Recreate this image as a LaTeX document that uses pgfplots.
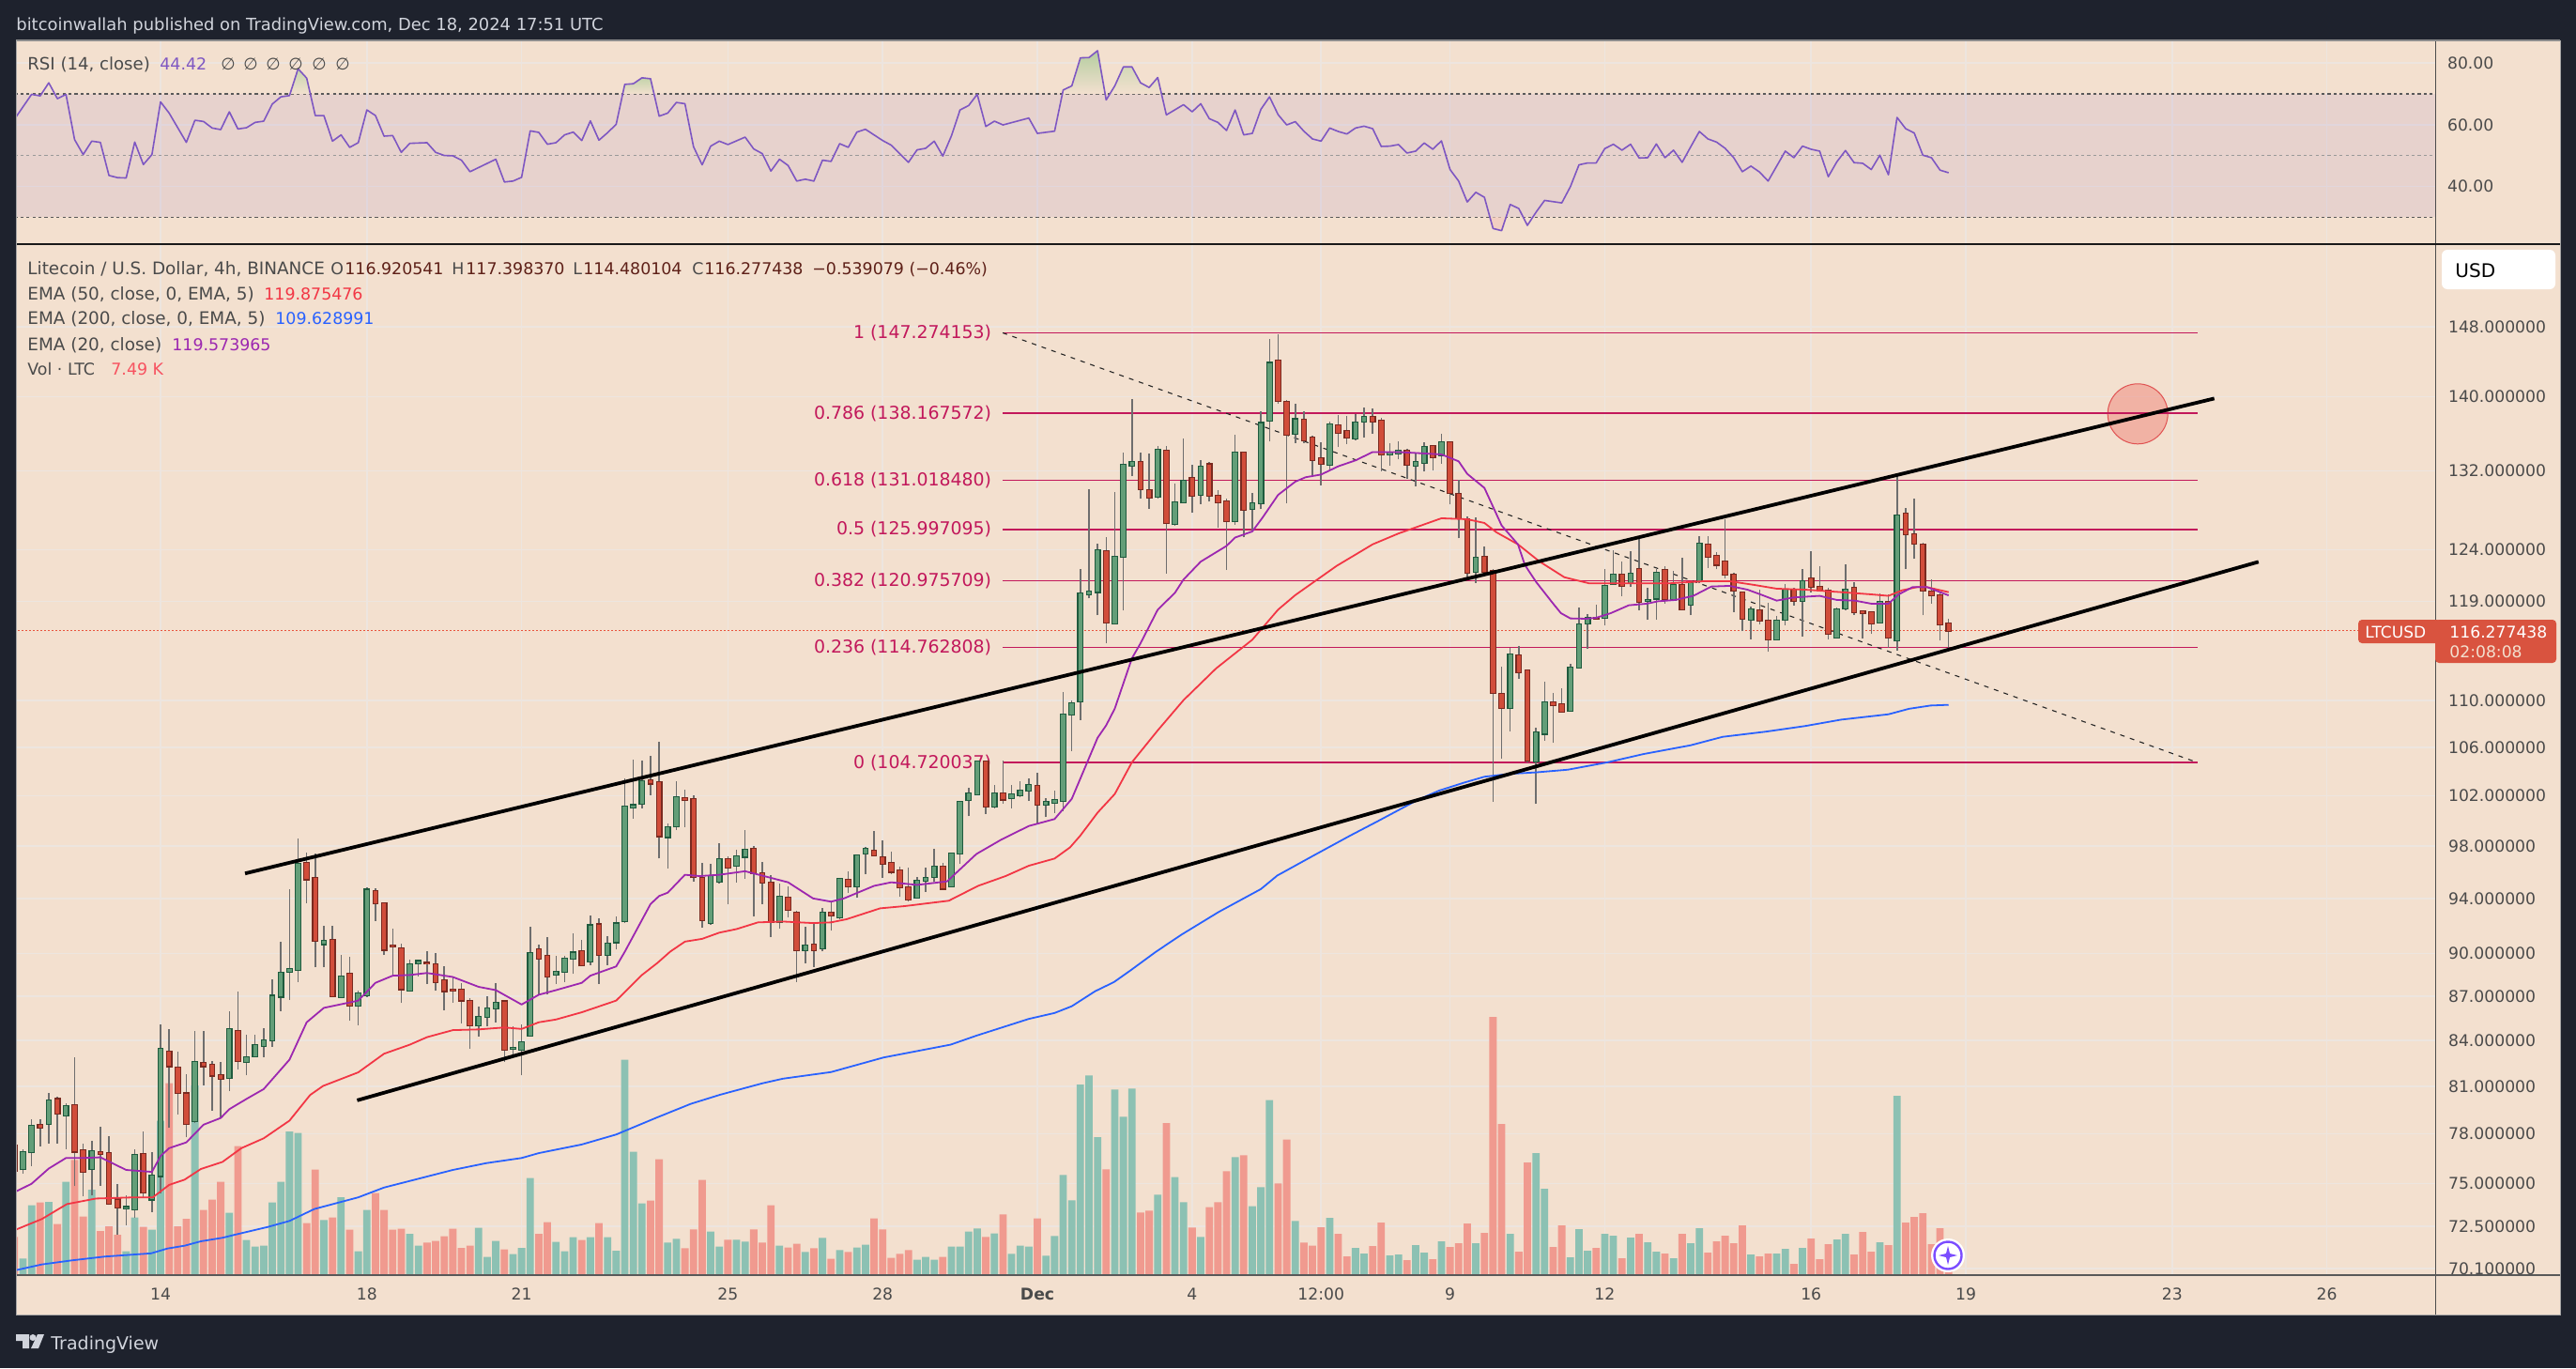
\documentclass[border=0pt]{standalone}
\usepackage{fontspec}
\setmainfont{DejaVu Sans}
\usepackage{pgfplots}
\usepackage{pgfplotstable}
\pgfplotsset{compat=1.18}

\definecolor{pagebg}{HTML}{1E222D}
\definecolor{panelbg}{HTML}{F3E0CF}
\definecolor{gridc}{HTML}{EDE5DF}
\definecolor{txt}{HTML}{4A4A4A}
\definecolor{titletxt}{HTML}{D1D4DC}
\definecolor{maroon}{HTML}{5E2018}
\definecolor{fibc}{HTML}{C2185B}
\definecolor{upbody}{HTML}{639E78}
\definecolor{upline}{HTML}{1F5B3E}
\definecolor{downbody}{HTML}{D14D3A}
\definecolor{downline}{HTML}{7A2A20}
\definecolor{wick}{HTML}{6E6E6E}
\definecolor{volup}{HTML}{8CC1B3}
\definecolor{voldown}{HTML}{F09A8F}
\definecolor{rsic}{HTML}{7E57C2}
\definecolor{emaA}{HTML}{F23645}
\definecolor{emaB}{HTML}{2962FF}
\definecolor{emaC}{HTML}{9C27B0}
\definecolor{lastc}{HTML}{E8553F}
\definecolor{tagc}{HTML}{D9533F}
\definecolor{obA}{HTML}{C5D5AC}
\definecolor{obB}{HTML}{C3D4AA}
\definecolor{obC}{HTML}{B4CDA0}
\definecolor{obD}{HTML}{D3D9B8}
\definecolor{osA}{HTML}{F2CFC2}
\definecolor{circfill}{HTML}{F07A70}
\definecolor{circline}{HTML}{E05252}
\definecolor{volval}{HTML}{F7525F}
\definecolor{badge}{HTML}{7B4DFF}

\newcommand\ts{\fontsize{8.7}{12}\selectfont}
\newcommand\lbl{\fontsize{9.2}{12}\selectfont}
\newcommand\tk{\fontsize{8.6}{12}\selectfont}
\newcommand\tf{\fontsize{9.45}{12}\selectfont}

% rising candles: bar (0 = 14 Nov 00:00, 4h), open high low close, volume in K
\pgfplotstableread{
i o h l c v
-16 75.86 77.07 75.58 76.88 5.0
-15 76.88 78.95 76.05 78.51 22.0
-13 78.61 80.55 77.43 80.09 23.1
-11 79.15 79.94 77.08 79.74 29.5
-8 75.86 77.6 74.29 76.93 27.0
-4 73.56 74.29 72.57 73.6 7.3
-3 73.47 77.08 72.96 76.71 18.1
-1 74.06 76.88 73.32 75.45 14.2
0 75.45 85.08 74.4 83.44 49.0
4 78.8 84.64 78.7 82.57 60.3
8 81.53 85.95 80.68 84.77 19.6
10 82.57 84.38 81.7 82.89 10.9
11 82.97 84.38 82.91 83.7 8.8
12 83.62 84.82 82.91 84.01 9.1
13 84.01 88.2 83.57 87.03 22.9
14 86.97 90.84 86.0 88.65 29.5
15 88.7 94.69 86.75 88.87 45.6
16 88.84 98.63 87.98 96.65 45.1
19 90.68 92.02 89.03 90.92 17.3
21 86.95 89.89 86.87 88.37 24.6
23 86.35 87.37 85.03 87.17 7.3
24 87.09 94.88 86.95 94.66 20.5
29 87.42 89.55 87.3 89.24 12.9
30 89.3 89.55 88.4 89.46 9.1
37 85.0 86.3 84.25 85.59 14.8
38 85.57 87.0 84.95 86.16 5.5
39 86.16 87.93 85.22 86.55 10.6
41 83.47 84.95 82.86 83.52 6.4
42 83.39 85.08 81.7 83.88 8.4
43 84.33 91.96 84.3 90.0 30.7
46 88.49 89.83 87.87 88.68 10.3
47 88.73 89.83 88.0 89.65 7.3
48 89.65 91.45 88.54 90.06 11.8
50 89.46 92.76 89.19 92.02 11.8
52 89.92 91.27 89.19 90.7 11.8
53 90.82 92.7 90.28 92.17 7.5
54 92.33 103.42 92.2 101.13 68.5
55 101.04 104.97 100.16 101.23 39.1
56 101.35 104.9 101.0 103.2 22.6
59 98.72 99.8 96.31 99.48 10.1
60 99.55 103.19 99.26 101.86 11.3
64 92.2 96.6 92.1 95.69 13.6
65 95.27 98.26 95.13 97.01 8.8
67 96.49 97.74 95.23 97.22 11.0
68 97.18 99.3 95.48 97.7 10.4
72 92.27 95.13 91.76 94.15 9.1
75 90.24 91.92 89.33 90.56 7.1
77 90.37 93.28 90.14 92.98 11.6
79 92.61 95.55 92.5 95.47 7.7
81 94.93 97.36 94.05 97.29 8.5
82 97.43 97.91 95.83 97.77 9.4
88 94.09 95.65 94.02 95.34 4.6
89 95.34 96.35 94.52 95.55 5.5
90 95.62 97.81 95.3 96.42 4.6
92 94.93 97.46 94.86 97.43 8.8
93 97.43 101.57 96.66 101.5 8.8
94 101.64 102.62 100.34 102.18 13.6
95 102.11 104.84 102.04 104.8 14.6
97 101.14 102.89 100.96 102.18 13.0
99 101.82 102.85 101.0 102.11 6.5
100 102.04 103.15 101.86 102.41 9.1
101 102.41 103.42 101.6 102.85 8.8
103 101.28 101.79 100.27 101.5 5.9
104 101.43 102.41 100.6 101.64 12.2
105 101.57 110.77 100.78 108.8 31.7
106 108.8 109.97 105.66 109.73 23.6
107 109.95 122.13 108.29 119.76 60.6
108 119.66 130.12 119.28 119.91 63.5
109 119.91 124.62 117.7 123.93 43.8
111 116.93 129.78 116.83 123.28 59.0
112 123.28 133.9 118.13 132.6 50.3
113 132.57 139.7 131.44 132.9 59.3
116 129.3 134.65 129.09 134.23 25.4
118 126.54 130.64 126.4 128.74 31.0
119 128.74 135.38 128.67 130.98 23.0
121 129.54 133.1 128.57 132.46 11.9
125 126.84 135.85 126.47 133.9 37.4
127 128.05 129.67 125.86 128.64 21.7
128 128.64 138.4 128.02 137.09 27.8
129 137.35 146.6 135.09 143.8 55.6
132 135.96 139.26 134.94 137.5 17.0
136 132.64 137.27 132.11 136.94 18.0
139 135.45 138.07 135.23 137.13 8.4
140 137.27 138.81 135.52 137.76 6.6
143 133.77 134.94 132.5 133.88 6.0
144 133.84 135.16 133.2 134.13 6.3
146 132.53 133.81 130.36 132.92 9.3
147 132.85 135.05 131.9 134.51 6.9
149 133.63 135.96 132.75 135.02 10.5
153 121.84 127.2 120.77 123.21 9.9
157 109.36 114.72 107.37 114.08 12.9
160 104.81 107.66 101.32 107.23 38.7
161 107.14 111.66 106.57 109.87 27.3
164 109.12 113.26 109.04 112.92 5.4
165 112.92 118.43 112.83 116.85 14.4
166 116.94 117.82 114.58 117.47 7.5
168 117.47 122.07 116.74 120.48 12.9
169 120.66 123.97 120.57 121.52 12.3
171 120.75 123.85 120.36 121.64 11.7
173 119.11 120.27 117.26 119.14 10.2
174 119.29 122.07 117.26 121.74 7.2
176 119.2 121.92 119.08 120.54 5.1
178 118.7 120.93 117.7 120.75 9.9
179 120.93 125.35 120.72 124.58 14.7
185 117.29 118.55 115.51 118.26 6.3
188 115.46 117.61 115.4 117.2 6.6
189 117.29 120.66 116.8 120.12 8.1
191 119.05 122.13 115.77 120.93 8.4
195 115.63 118.43 115.57 118.26 11.1
196 118.34 122.6 118.2 120.12 12.9
200 117.03 119.77 116.97 118.97 10.2
202 115.37 131.52 114.44 127.4 57.0
}\upc

% falling candles
\pgfplotstableread{
i o h l c v
-17 77.29 77.4 75.5 75.74 11.9
-14 78.56 78.9 77.24 78.39 22.9
-12 80.17 80.32 77.43 79.27 16.0
-10 79.79 82.86 74.82 76.93 36.5
-9 77.0 77.41 74.22 75.69 18.4
-7 76.88 78.46 74.87 76.76 13.8
-6 76.83 77.85 73.72 73.81 15.3
-5 74.04 74.98 72.0 73.6 12.6
-2 76.76 78.14 74.13 74.45 15.1
1 83.26 84.77 78.38 82.31 61.0
2 82.21 83.26 79.23 80.58 15.3
3 80.53 81.76 77.8 78.61 17.7
5 82.52 84.64 81.07 82.31 20.5
6 82.39 82.65 79.44 81.7 23.8
7 81.73 82.6 79.03 81.48 29.5
9 84.64 87.3 82.09 82.65 40.9
17 96.71 97.53 93.68 95.47 16.3
18 95.56 97.41 89.03 90.92 33.4
20 90.98 92.02 87.03 87.03 18.1
22 88.57 89.75 85.3 86.35 14.2
25 94.57 94.78 92.37 93.65 25.9
26 93.65 93.74 89.89 90.28 20.5
27 90.57 91.82 88.4 90.54 14.2
28 90.36 90.7 86.52 87.5 14.5
31 89.33 90.18 87.85 89.3 10.1
32 89.24 90.04 87.37 88.0 10.6
33 88.1 89.08 86.06 87.37 12.1
34 87.45 88.37 86.57 87.42 14.5
35 87.45 87.93 85.16 86.72 8.4
36 86.65 86.87 83.44 85.0 9.1
40 86.63 86.7 82.6 83.39 7.9
44 90.28 90.65 87.1 89.65 12.9
45 89.8 91.16 87.1 88.37 16.6
49 90.15 90.98 89.1 89.16 10.9
51 92.1 92.55 87.85 89.92 16.3
57 103.26 105.3 102.07 103.0 23.5
58 103.12 106.43 97.04 98.79 36.7
61 101.79 102.52 99.51 101.64 8.3
62 101.71 102.04 95.3 95.62 14.3
63 95.55 96.7 91.86 92.43 30.1
66 97.01 97.22 93.58 96.35 11.0
69 97.77 97.98 92.67 95.94 14.3
70 95.9 96.8 93.58 95.23 10.1
71 95.2 95.8 91.18 92.31 22.0
73 94.09 94.89 92.64 93.18 8.5
74 92.98 93.11 88.0 90.24 9.7
76 90.63 92.25 89.04 90.24 8.3
78 92.98 93.78 91.63 92.74 4.9
80 95.4 96.04 94.45 94.93 7.1
83 97.67 99.2 97.22 97.29 17.8
84 97.15 98.44 95.55 96.63 14.3
85 96.7 97.57 95.83 96.04 5.2
86 96.11 96.42 94.12 94.86 6.5
87 94.86 96.35 93.78 93.95 7.7
91 96.42 96.7 94.69 94.76 5.5
96 104.8 104.84 100.56 101.14 11.9
98 102.18 104.87 101.35 101.71 19.1
102 102.78 103.9 99.69 101.28 17.8
110 123.83 125.19 115.09 117.02 33.5
114 132.9 133.9 129.09 130.09 19.7
115 129.95 133.87 128.09 129.23 20.3
117 134.12 134.58 121.67 126.64 48.3
120 131.23 132.68 127.65 129.43 14.9
122 132.68 132.9 128.81 129.43 21.4
123 129.43 129.95 126.17 128.74 23.0
124 128.81 129.09 122.0 126.84 32.9
126 133.9 133.95 125.19 127.98 38.0
130 144.1 147.15 139.2 139.56 29.0
131 139.45 139.63 128.67 135.85 43.0
133 137.43 138.4 134.94 135.23 10.1
134 135.52 135.74 131.58 133.13 9.1
135 133.31 135.05 130.47 132.75 15.0
137 136.87 137.95 134.52 136.03 12.9
138 136.25 137.84 134.87 135.52 5.7
141 137.76 138.7 135.96 137.27 9.0
142 137.38 137.67 131.97 133.74 16.5
145 134.13 134.33 131.16 132.64 4.5
148 134.62 134.69 132.0 133.45 4.8
150 135.02 135.09 128.5 129.71 8.7
151 129.57 131.05 125.12 127.14 9.9
152 127.01 127.3 121.09 121.74 16.2
154 123.31 124.29 121.74 121.84 13.2
155 121.94 122.07 101.54 110.69 82.2
156 110.57 112.99 105.08 109.36 48.0
158 114.01 114.88 111.95 112.52 7.2
159 112.64 112.79 104.75 104.89 35.7
162 109.86 110.69 106.35 109.59 8.7
163 109.7 111.1 109.04 109.04 15.6
167 117.47 118.73 117.32 117.41 8.4
170 121.52 122.84 119.53 120.48 5.1
172 122.07 125.15 118.2 118.97 12.9
175 122.01 122.38 118.79 119.2 6.6
177 120.54 123.2 118.2 118.26 12.9
180 124.49 125.35 122.22 123.29 6.9
181 123.38 123.75 122.07 122.53 10.5
182 122.84 127.02 121.17 121.55 12.3
183 121.55 121.77 118.02 120.03 9.9
184 119.85 119.9 116.21 117.38 15.6
186 118.17 120.12 116.88 117.2 5.7
187 117.2 118.88 114.33 115.46 6.6
190 120.12 120.27 118.64 119.05 3.3
192 121.19 123.85 119.89 120.39 11.4
193 120.39 122.38 119.92 120.12 4.8
194 120.0 120.27 115.51 115.98 9.6
197 120.3 120.87 117.76 117.99 6.3
198 118.08 118.2 115.57 117.88 13.5
199 117.96 118.05 115.95 116.94 7.2
201 118.97 119.68 114.7 115.63 9.3
203 127.59 128.2 122.07 125.52 16.5
204 125.52 129.15 123.08 124.58 18.3
205 124.49 124.67 117.7 120.03 19.5
206 119.94 121.1 118.79 119.59 9.6
207 119.59 119.85 115.34 116.85 14.7
208 116.92 117.4 114.48 116.28 7.49
}\downc

\pgfplotstableread{
i r
-17 61.77
-15 69.87
-14 69.37
-13 73.62
-12 68.46
-11 69.87
-10 55.19
-9 50.33
-8 54.68
-7 54.28
-6 43.54
-5 42.83
-4 42.73
-3 54.38
-2 47.09
-1 50.33
0 67.44
1 63.79
3 54.28
4 61.47
5 61.06
6 58.94
7 58.43
8 64.2
9 58.63
10 59.04
11 60.76
12 61.17
13 66.73
14 69.06
15 69.47
16 78.18
17 75.14
18 62.99
19 62.99
20 54.68
21 56.71
22 52.66
23 54.18
24 64.81
25 62.99
26 56.3
27 56.5
28 51.04
29 53.97
31 54.18
32 51.04
33 50.03
34 49.92
35 48.51
36 44.76
39 48.81
40 41.42
41 41.72
42 42.93
43 58.02
44 57.52
45 53.67
46 54.18
47 56.71
48 57.62
49 54.88
50 61.27
51 54.99
52 57.42
53 60.15
54 73.11
55 73.32
56 75.24
57 74.94
58 62.78
59 63.79
60 67.24
61 66.83
62 52.86
63 46.99
64 53.06
65 54.68
66 53.57
68 55.99
69 52.15
70 50.63
71 44.96
72 48.81
73 46.78
74 41.72
75 42.33
76 41.72
77 48.51
78 48.1
79 53.87
80 52.66
81 57.62
82 58.53
84 54.88
85 53.37
87 47.8
88 51.85
89 52.35
90 54.68
91 49.82
92 56.41
93 64.81
94 66.23
95 69.87
96 59.44
97 61.17
98 59.95
101 62.18
102 57.2
104 57.92
105 71.29
106 72.61
107 81.72
108 81.82
109 84.05
110 68.05
111 72.61
112 78.78
113 78.78
114 73.62
115 72.1
116 75.34
117 63.19
119 66.53
120 64.2
121 66.83
122 61.97
123 60.76
124 58.13
125 64.81
126 56.71
127 57.2
128 65.01
129 69.06
130 63.29
131 59.95
132 61.01
133 57.9
134 55.4
135 54.68
136 58.94
137 57.82
138 57.0
139 58.94
140 59.54
141 58.73
142 52.96
143 53.06
144 53.57
145 50.83
146 51.44
147 54.08
148 52.05
149 54.78
150 45.47
151 41.72
152 34.93
153 38.07
154 36.45
155 26.33
156 25.62
157 34.12
158 32.81
159 27.34
160 31.6
161 35.44
163 34.63
164 39.9
165 46.99
166 47.6
167 47.6
168 52.25
169 53.67
170 51.75
171 53.67
172 49.21
173 49.31
174 53.77
175 49.31
176 51.75
177 47.8
178 52.86
179 57.82
180 55.4
181 54.38
182 52.35
183 49.31
184 44.76
185 46.58
186 44.66
187 41.72
189 51.44
190 49.31
191 53.06
192 52.05
193 51.44
194 43.14
195 47.99
196 51.64
197 47.7
198 47.5
199 45.47
200 50.12
201 43.75
202 62.38
203 58.73
204 57.32
205 50.12
206 49.31
207 45.27
208 44.42
}\rsidata

\pgfplotsset{
  pane/.style={
    scale only axis, width=1288pt,
    xmin=-16.71, xmax=264.6,
    axis line style={draw=none},
    tick style={draw=none},
    grid=major,
    grid style={gridc, line width=0.8pt},
    xtick={0,24,42,66,84,102,120,135,150,168,192,210,234,252},
    clip=true,
  },
}

\begin{document}
\begin{tikzpicture}
\useasboundingbox (0,0) rectangle (1372pt,-728.5pt);
\begin{scope}[x=0.5pt,y=-0.5pt]
  \fill[pagebg] (0,0) rectangle (2744,1457);
  \fill[panelbg] (17,43) rectangle (2727,1400);
\end{scope}

% RSI pane
\begin{axis}[pane,
  at={(9pt,-129.65pt)}, anchor=south west, height=108pt,
  ymin=21.46, ymax=87.3,
  xticklabels={},
  ytick={40,60,80},
  yticklabels={40.00,60.00,80.00},
  yticklabel pos=right,
  yticklabel style={font=\tk, text=txt, anchor=west, xshift=3pt},
]
  \fill[rsic, opacity=0.1] (axis cs:-17,30) rectangle (axis cs:265,70);
  \addplot[forget plot, color=black!65, line width=0.7pt, dash pattern=on 1.6pt off 1.6pt] coordinates {(-17,70) (265,70)};
  \addplot[forget plot, color=black!40, line width=0.7pt, dash pattern=on 1.6pt off 1.6pt] coordinates {(-17,50) (265,50)};
  \addplot[forget plot, color=black!65, line width=0.7pt, dash pattern=on 1.6pt off 1.6pt] coordinates {(-17,30) (265,30)};
  % overbought and oversold shading
  \addplot[forget plot, draw=none, top color=obA, bottom color=panelbg] coordinates {(15.06,70) (16,78.18) (17,75.14) (17.42,70)} --cycle;
  \addplot[forget plot, draw=none, top color=obB, bottom color=panelbg] coordinates {(53.76,70) (54,73.11) (55,73.32) (56,75.24) (57,74.94) (57.41,70)} --cycle;
  \addplot[forget plot, draw=none, top color=obC, bottom color=panelbg] coordinates {(104.9,70) (105,71.29) (106,72.61) (107,81.72) (108,81.82) (109,84.05) (109.88,70)} --cycle;
  \addplot[forget plot, draw=none, top color=obD, bottom color=panelbg] coordinates {(110.43,70) (111,72.61) (112,78.78) (113,78.78) (114,73.62) (115,72.1) (116,75.34) (116.44,70)} --cycle;
  \addplot[forget plot, draw=none, fill=osA] coordinates {(154.64,30) (155,26.33) (156,25.62) (156.52,30)} --cycle;
  \addplot[forget plot, rsic, line width=0.8pt, line join=round] table[x=i,y=r] {\rsidata};
\end{axis}

% price pane: ticks, grid, fibonacci levels
\begin{axis}[pane,
  at={(9pt,-678.5pt)}, anchor=south west, height=549pt,
  ymode=log, ymin=69.79, ymax=158.14,
  xticklabels={14,18,21,25,28,\textbf{Dec},4,12:00,9,12,16,19,23,26},
  xticklabel style={font=\tk, text=txt, yshift=-4pt},
  ytick={70.1,72.5,75,78,81,84,87,90,94,98,102,106,110,119,124,132,140,148},
  yticklabels={70.100000,72.500000,75.000000,78.000000,81.000000,84.000000,87.000000,90.000000,94.000000,98.000000,102.000000,106.000000,110.000000,119.000000,124.000000,132.000000,140.000000,148.000000},
  yticklabel pos=right,
  yticklabel style={font=\tk, text=txt, anchor=west, xshift=3.5pt},
  minor y tick num=0,
]
  \fill[circfill, opacity=0.45] (axis cs:230,138.1) circle (16pt);
  \draw[circline, line width=0.5pt] (axis cs:230,138.1) circle (16pt);
  \addplot[forget plot, lastc, line width=0.5pt, dash pattern=on 1pt off 1pt] coordinates {(-17,116.277) (265,116.277)};
  \addplot[forget plot, fibc, line width=0.7pt] coordinates {(97.96,147.274) (236.96,147.274)};
  \addplot[forget plot, fibc, line width=0.7pt] coordinates {(97.96,138.168) (236.96,138.168)};
  \addplot[forget plot, fibc, line width=0.7pt] coordinates {(97.96,131.018) (236.96,131.018)};
  \addplot[forget plot, fibc, line width=0.7pt] coordinates {(97.96,125.997) (236.96,125.997)};
  \addplot[forget plot, fibc, line width=0.7pt] coordinates {(97.96,120.976) (236.96,120.976)};
  \addplot[forget plot, fibc, line width=0.7pt] coordinates {(97.96,114.763) (236.96,114.763)};
  \addplot[forget plot, fibc, line width=0.7pt] coordinates {(97.96,104.720) (236.96,104.720)};
  \addplot[forget plot, black!85, line width=0.55pt, dash pattern=on 2.5pt off 3pt] coordinates {(97.96,147.274) (236.96,104.720)};
  \node[anchor=east, inner sep=0pt, font=\tf, text=fibc] at (axis cs:96.7,147.274) {1 (147.274153)};
  \node[anchor=east, inner sep=0pt, font=\tf, text=fibc] at (axis cs:96.7,138.168) {0.786 (138.167572)};
  \node[anchor=east, inner sep=0pt, font=\tf, text=fibc] at (axis cs:96.7,131.018) {0.618 (131.018480)};
  \node[anchor=east, inner sep=0pt, font=\tf, text=fibc] at (axis cs:96.7,125.997) {0.5 (125.997095)};
  \node[anchor=east, inner sep=0pt, font=\tf, text=fibc] at (axis cs:96.7,120.976) {0.382 (120.975709)};
  \node[anchor=east, inner sep=0pt, font=\tf, text=fibc] at (axis cs:96.7,114.763) {0.236 (114.762808)};
  \node[anchor=east, inner sep=0pt, font=\tf, text=fibc] at (axis cs:96.7,104.720) {0 (104.720037)};
\end{axis}

% volume
\begin{axis}[
  at={(9pt,-678.5pt)}, anchor=south west, scale only axis, width=1288pt, height=549pt,
  xmin=-16.71, xmax=264.6, ymin=0, ymax=329.4, hide axis,
]
  \addplot[forget plot, ybar, bar width=3.9pt, bar shift=0pt, draw=none, fill=volup] table[x=i,y=v] {\upc};
  \addplot[forget plot, ybar, bar width=3.9pt, bar shift=0pt, draw=none, fill=voldown] table[x=i,y=v] {\downc};
\end{axis}

% candles, averages, channel
\begin{axis}[
  at={(9pt,-678.5pt)}, anchor=south west, scale only axis, width=1288pt, height=549pt,
  xmin=-16.71, xmax=264.6, ymode=log, ymin=69.79, ymax=158.14, hide axis,
  wickbars/.style={forget plot, draw=none, mark=none, error bars/.cd, y dir=plus, y explicit, error mark=none,
    error bar style={solid, draw=wick, line width=0.75pt}},
  bodybars/.style 2 args={forget plot, draw=none, mark=none, error bars/.cd, y dir=plus, y explicit, error mark=none,
    error bar style={solid, draw=#1, line width=#2}},
]
  \addplot[wickbars] table[x=i, y=l, y error plus expr=\thisrow{h}-\thisrow{l}] {\upc};
  \addplot[wickbars] table[x=i, y=l, y error plus expr=\thisrow{h}-\thisrow{l}] {\downc};
  \addplot[bodybars={upline}{3.4pt}]
    table[x=i, y expr=\thisrow{o}/1.0009, y error plus expr=\thisrow{c}*1.0009-\thisrow{o}/1.0009] {\upc};
  \addplot[bodybars={upbody}{2.2pt}]
    table[x=i, y=o, y error plus expr=\thisrow{c}-\thisrow{o}] {\upc};
  \addplot[bodybars={downline}{3.4pt}]
    table[x=i, y expr=\thisrow{c}/1.0009, y error plus expr=\thisrow{o}*1.0009-\thisrow{c}/1.0009] {\downc};
  \addplot[bodybars={downbody}{2.2pt}]
    table[x=i, y=c, y error plus expr=\thisrow{o}-\thisrow{c}] {\downc};

  % EMA 200
  \addplot[forget plot, emaB, line width=0.9pt, line join=round] coordinates {
    (-16.9,70.0) (-13.8,70.33) (-10.4,70.55) (-6.5,70.77) (-1.1,70.95) (0.8,71.22) (2.8,71.38) (4.7,71.63)
    (7.2,71.83) (8.6,72.0) (12.5,72.45) (15,72.8) (17.9,73.49) (23,74.17) (26,74.75) (31,75.41) (34,75.81)
    (37.9,76.22) (42,76.53) (44,76.83) (49,77.36) (53,77.97) (57.8,79.04) (61.7,79.89) (65.1,80.46) (70,81.19)
    (72.4,81.49) (78,81.92) (84.1,82.87) (91.9,83.72) (94.9,84.32) (101,85.45) (104,85.85) (106,86.31)
    (108.7,87.34) (110.9,87.98) (112.9,88.83) (115.8,90.13) (118.8,91.37) (123.1,93.02) (128,94.72) (129.9,95.74)
    (134.2,97.3) (138.4,98.83) (141.6,99.96) (146.2,101.65) (148.7,102.41) (151.6,103.06) (154,103.55) (157,103.79)
    (160,103.91) (163.7,104.13) (168.3,104.74) (172.5,105.43) (178,106.17) (181.7,106.88) (186.7,107.32) (191.3,107.8)
    (195.5,108.35) (201,108.81) (203.4,109.29) (205.9,109.57) (208,109.63)};
  % EMA 50
  \addplot[forget plot, emaA, line width=0.9pt, line join=round] coordinates {
    (-16.9,72.28) (-13.8,72.91) (-10.9,73.78) (-7.5,74.1) (-3,74.17) (-0.9,74.17) (1,74.91) (2.8,75.22) (4.7,75.86)
    (7.2,76.29) (9.4,77.12) (12,77.73) (15,78.83) (17.4,80.44) (18.9,81.02) (23,81.9) (26,83.12) (29,83.72)
    (31,84.22) (34,84.69) (37,84.74) (40,84.87) (42,84.77) (44,85.22) (46,85.41) (49,85.9) (53,86.7) (56,88.48)
    (57.8,89.33) (59.3,90.14) (61,90.85) (63,91.05) (65,91.5) (67,91.76) (69.5,92.25) (72.4,92.31) (75.9,92.2)
    (78,92.25) (79.8,92.48) (83.7,93.28) (86.6,93.45) (89.5,93.68) (91.7,93.85) (95.1,94.96) (98.3,95.7) (101,96.49)
    (104,97.04) (105.8,97.91) (107,98.83) (109,100.64) (111,102.14) (113,104.75) (116,107.43) (119,110.04)
    (122.8,112.85) (127,115.44) (130,118.23) (132,119.6) (136.8,122.4) (141,124.52) (144,125.59) (149,127.12)
    (152,127.02) (154,126.65) (155.4,125.71) (157.9,124.52) (160.4,122.84) (163.3,121.31) (166.2,120.72)
    (170.4,120.72) (175.4,120.72) (179.6,120.93) (182.5,120.93) (185.4,120.57) (188,120.21) (191.3,120.12)
    (195.5,119.88) (199,119.67) (201,119.53) (202.6,120.06) (204.3,120.36) (205.5,120.36) (208,119.88)};
  % EMA 20
  \addplot[forget plot, emaC, line width=0.9pt, line join=round] coordinates {
    (-16.9,74.5) (-15,74.98) (-13,75.89) (-11,76.53) (-9,76.53) (-7,76.57) (-4,75.81) (-1,75.69) (0,76.64) (1,77.12)
    (3,77.48) (5,78.58) (7,79.0) (8,79.56) (10,80.19) (12,80.82) (15,82.73) (17,85.22) (19,86.2) (22,86.57) (23,86.7)
    (25,87.93) (27,88.43) (29,88.48) (31,88.62) (34,88.34) (37,87.65) (39,87.42) (42,86.43) (44,87.1) (46,87.42)
    (49,87.93) (50,88.43) (53,89.08) (54,90.12) (57,93.6) (58,94.2) (59,94.45) (61,95.8) (62.7,95.7) (65,95.8) (68,96.07)
    (70.5,95.65) (73,95.23) (75.9,94.02) (78,93.78) (79.5,94.02) (83,94.96) (85,95.23) (88,95.03) (91.5,95.3) (94.9,97.39)
    (97.8,98.51) (101,99.58) (104,100.13) (106,101.75) (109,106.8) (110,107.86) (111,109.3) (113,113.76) (114,115.12)
    (116,118.23) (118,119.82) (119,121.09) (121,122.82) (124,124.36) (125,125.19) (127,125.8) (128.2,127.2) (130,129.5)
    (132,130.87) (133.2,131.33) (135,131.61) (137,132.47) (139,133.1) (141,133.98) (144,133.98) (149,133.73) (151,133.0)
    (152,131.68) (154,130.22) (156,126.4) (157.9,124.52) (158.7,122.5) (160,120.87) (162,118.79) (162.9,117.9) (164,117.41)
    (165.8,117.38) (167,117.47) (168.7,117.9) (170.8,118.64) (172.9,118.79) (174.2,119.02) (176.2,119.14) (178.3,119.53)
    (180.4,120.42) (182.5,120.48) (184.6,120.12) (186.1,119.67) (188,119.08) (190,119.38) (193,119.53) (195,119.14)
    (197.1,119.08) (199,118.79) (201,118.79) (202.2,119.67) (203.8,120.36) (205.5,120.36) (208,119.57)};

  % channel
  \addplot[forget plot, black, line width=1.9pt] coordinates {(9.83,95.9) (238.9,139.8)};
  \addplot[forget plot, black, line width=1.9pt] coordinates {(22.87,80.1) (244.05,122.8)};
\end{axis}

\begin{scope}[x=0.5pt,y=-0.5pt, every node/.style={inner sep=0pt, anchor=base west}]
  % frame
  \draw[black!70, line width=0.5pt] (2594,43) -- (2594,1400);
  \draw[black!65, line width=1pt] (17,1357.5) -- (2727,1357.5);
  \draw[black!90, line width=1pt] (17,259.5) -- (2727,259.5);
  \draw[black!45, line width=1pt] (17,43) -- (2727,43);
  \draw[black!35, line width=0.5pt] (17,43) -- (17,1400) -- (2727,1400) -- (2727,43);

  % header
  \node[text=titletxt, font=\fontsize{8.95}{12}\selectfont] at (17,32) {bitcoinwallah published on TradingView.com, Dec 18, 2024 17:51 UTC};

  % RSI legend
  \node[text=txt, font=\fontsize{9.05}{12}\selectfont] at (29,74) {RSI (14, close)};
  \node[text=rsic, font=\ts] at (170,74) {44.42};
  \foreach \x in {235,259,283,307,332,357}
    \node[text=txt, font=\fontsize{8.8}{12}\selectfont] at (\x,74) {∅};

  % price legend
  \node[text=txt, font=\lbl] at (29,292) {Litecoin / U.S. Dollar, 4h, BINANCE};
  \node[text=txt, font=\ts] at (352,292) {O};
  \node[text=maroon, font=\ts] at (367,292) {116.920541};
  \node[text=txt, font=\ts] at (481,292) {H};
  \node[text=maroon, font=\ts] at (496,292) {117.398370};
  \node[text=txt, font=\ts] at (610,292) {L};
  \node[text=maroon, font=\ts] at (621,292) {114.480104};
  \node[text=txt, font=\ts] at (737,292) {C};
  \node[text=maroon, font=\ts] at (750,292) {116.277438};
  \node[text=maroon, font=\ts] at (865,292) {−0.539079 (−0.46\%)};
  \node[text=txt, font=\lbl] at (29,319) {EMA (50, close, 0, EMA, 5)};
  \node[text=emaA, font=\ts] at (281,319) {119.875476};
  \node[text=txt, font=\lbl] at (29,345.5) {EMA (200, close, 0, EMA, 5)};
  \node[text=emaB, font=\ts] at (293,345.5) {109.628991};
  \node[text=txt, font=\lbl] at (29,373) {EMA (20, close)};
  \node[text=emaC, font=\ts] at (183,373) {119.573965};
  \node[text=txt, font=\ts] at (29,399.5) {Vol · LTC};
  \node[text=volval, font=\ts] at (118,399.5) {7.49 K};

  % currency and last price tags
  \fill[white, rounded corners=3pt] (2601,266) rectangle (2722,308);
  \node[text=black, font=\fontsize{10}{12}\selectfont] at (2615,295) {USD};
  \fill[tagc, rounded corners=2pt] (2512,660) rectangle (2600,685);
  \fill[tagc, rounded corners=2pt] (2594,660) rectangle (2723,706);
  \node[text=white, font=\fontsize{8.5}{12}\selectfont] at (2519,679) {LTCUSD};
  \node[text=white, font=\tk] at (2609,679) {116.277438};
  \node[text=panelbg, font=\tk] at (2609,700) {02:08:08};

  % assistant badge
  \fill[white] (2075,1337) circle (18);
  \draw[badge, line width=1.2pt] (2075,1337) circle (14.5);
  \fill[badge] (2075,1327) -- (2077,1335) -- (2085,1337) -- (2077,1339) -- (2075,1347) -- (2073,1339) -- (2065,1337) -- (2073,1335) -- cycle;

  % footer logo
  \fill[titletxt] (17,1421) -- (31,1421) -- (31,1436) -- (24,1436) -- (24,1428) -- (17,1428) -- cycle;
  \fill[titletxt] (35,1424.5) circle (3.5);
  \fill[titletxt] (40,1421) -- (47,1421) -- (41,1436) -- (33,1436) -- cycle;
  \node[text=titletxt, font=\fontsize{9.5}{12}\selectfont] at (54,1437) {TradingView};
\end{scope}
\end{tikzpicture}
\end{document}
